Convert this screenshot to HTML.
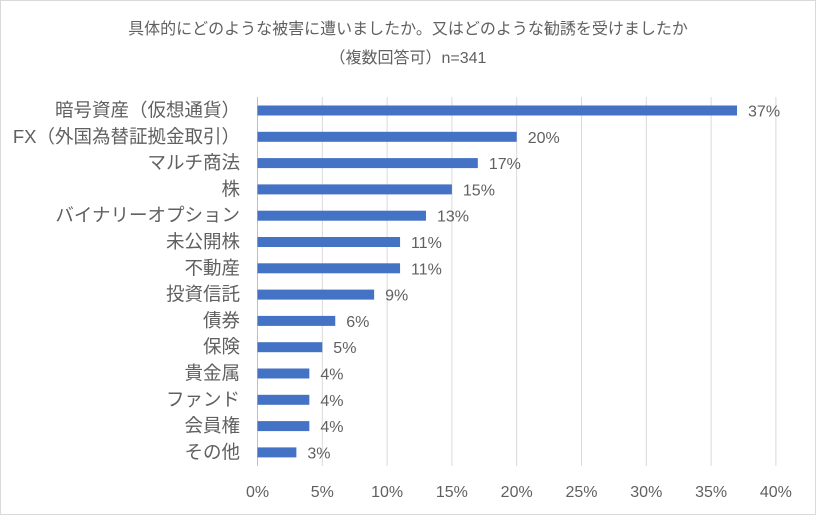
<!DOCTYPE html>
<html><head><meta charset="utf-8"><style>
body{margin:0;background:#fff;}
svg text{font-family:"Liberation Sans","Noto Sans CJK JP",sans-serif;fill:#606060;}
</style></head><body>
<svg id="chart" width="816" height="515" xmlns="http://www.w3.org/2000/svg">
<rect x="0.5" y="0.5" width="815" height="514" fill="#fff" stroke="#d9d9d9"/>
<text x="408" y="34" font-size="16" text-anchor="middle">具体的にどのような被害に遭いましたか。又はどのような勧誘を受けましたか</text>
<text x="408" y="63" font-size="16" text-anchor="middle">（複数回答可）n=341</text>
<g id="grid"></g><g id="bars"></g><g id="labels"></g>
</svg>
<script>
const categories=["暗号資産（仮想通貨）","FX（外国為替証拠金取引）","マルチ商法","株","バイナリーオプション","未公開株","不動産","投資信託","債券","保険","貴金属","ファンド","会員権","その他"];
const values=[37,20,17,15,13,11,11,9,6,5,4,4,4,3];
const ticks=[0,5,10,15,20,25,30,35,40];
const NS="http://www.w3.org/2000/svg";
const x0=257.5,pxPer=12.96,yTop=97,yBot=466,row0=110.5,rowH=26.3,barH=10;
const xs=v=>x0+v*pxPer, ys=i=>row0+i*rowH;
function mk(tag,attrs,parent){const e=document.createElementNS(NS,tag);for(const k in attrs)e.setAttribute(k,attrs[k]);document.getElementById(parent).appendChild(e);return e;}
ticks.forEach(t=>{
 const l=mk('line',{x1:xs(t),x2:xs(t),y1:yTop,y2:yBot,stroke:t===0?'#bfbfbf':'#d9d9d9','stroke-width':1},'grid');
 
 
 const tx=mk('text',{x:xs(t),y:497,'font-size':16,'text-anchor':'middle'},'labels');
 tx.textContent=t+'%';
 
 
});
categories.forEach((c,i)=>{
 const b=mk('rect',{x:x0,y:ys(i)-barH/2,width:xs(values[i])-x0,height:barH,fill:'#4472c4'},'bars');
 
 
 const cl=mk('text',{x:240,y:ys(i)+6,'font-size':18.5,'text-anchor':'end'},'labels');
 cl.textContent=c;
 
 
 const vl=mk('text',{x:xs(values[i])+11,y:ys(i)+6,'font-size':16},'labels');
 vl.textContent=values[i]+'%';
 
 
});
</script>
</body></html>
